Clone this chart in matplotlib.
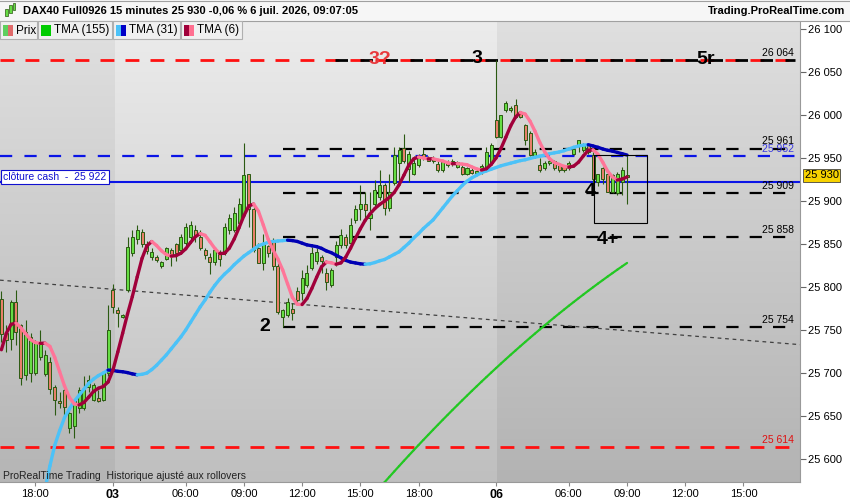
import numpy as np
import matplotlib
matplotlib.use("Agg")
import matplotlib.pyplot as plt
from matplotlib.patches import Rectangle
from matplotlib.lines import Line2D
from matplotlib.collections import LineCollection
from matplotlib.colors import to_rgb

plt.rcParams['font.family'] = ['Liberation Sans', 'DejaVu Sans']

# DAX40 Full0926, bougies 15 minutes (2 juil. 16:15 -> 6 juil. 09:00)
opens = [25786, 25746, 25740, 25783, 25756, 25698, 25700, 25700, 25719, 25699,
         25713, 25684, 25668, 25680, 25636, 25638, 25659, 25659, 25684, 25669,
         25671, 25669, 25700, 25797, 25773, 25765, 25796, 25840, 25856, 25864,
         25850, 25835, 25835, 25824, 25833, 25843, 25850, 25843, 25851, 25858,
         25866, 25858, 25843, 25835, 25829, 25839, 25839, 25866, 25866, 25874,
         25884, 25931, 25891, 25845, 25828, 25848, 25855, 25824, 25765, 25767,
         25775, 25795, 25793, 25802, 25822, 25830, 25835, 25816, 25802, 25835,
         25849, 25858, 25851, 25878, 25891, 25897, 25880, 25897, 25905, 25919,
         25892, 25921, 25944, 25962, 25937, 25932, 25942, 25955, 25950, 25946,
         25943, 25936, 25944, 25943, 25940, 25940, 25932, 25936, 25933, 25934,
         25940, 25944, 25994, 25975, 26006, 26006, 26012, 26002, 25988, 25979,
         25951, 25942, 25938, 25944, 25946, 25942, 25940, 25938, 25955, 25965,
         25959, 25965, 25954, 25922, 25938, 25932, 25911, 25909, 25922, 25928]
highs = [25795, 25756, 25785, 25796, 25757, 25762, 25746, 25738, 25750, 25727,
         25719, 25686, 25678, 25682, 25655, 25669, 25684, 25696, 25698, 25688,
         25680, 25702, 25779, 25804, 25777, 25769, 25858, 25866, 25872, 25868,
         25854, 25845, 25837, 25830, 25847, 25845, 25851, 25862, 25875, 25877,
         25872, 25866, 25845, 25839, 25846, 25843, 25874, 25885, 25893, 25904,
         25968, 25932, 25895, 25851, 25862, 25849, 25857, 25828, 25775, 25787,
         25781, 25800, 25820, 25826, 25847, 25845, 25837, 25822, 25822, 25853,
         25868, 25862, 25880, 25895, 25919, 25911, 25911, 25924, 25936, 25921,
         25932, 25963, 25963, 25978, 25958, 25952, 25955, 25961, 25952, 25952,
         25947, 25947, 25948, 25949, 25947, 25942, 25940, 25938, 25938, 25943,
         25963, 25967, 26064, 26000, 26016, 26010, 26019, 26004, 25990, 25981,
         25960, 25950, 25946, 25948, 25948, 25944, 25942, 25946, 25963, 25971,
         25967, 25967, 25957, 25932, 25940, 25934, 25932, 25934, 25940, 25954]
lows = [25736, 25725, 25727, 25733, 25686, 25692, 25690, 25698, 25715, 25697,
        25676, 25651, 25659, 25649, 25630, 25624, 25653, 25657, 25678, 25667,
        25666, 25667, 25696, 25770, 25754, 25764, 25794, 25836, 25850, 25846,
        25838, 25831, 25829, 25822, 25831, 25824, 25830, 25840, 25848, 25855,
        25852, 25843, 25833, 25815, 25826, 25824, 25837, 25862, 25864, 25870,
        25882, 25870, 25841, 25828, 25820, 25835, 25820, 25769, 25754, 25765,
        25762, 25781, 25785, 25800, 25820, 25827, 25816, 25797, 25800, 25824,
        25845, 25845, 25849, 25874, 25878, 25878, 25866, 25893, 25901, 25884,
        25888, 25919, 25921, 25944, 25922, 25930, 25940, 25948, 25946, 25944,
        25934, 25934, 25940, 25941, 25938, 25930, 25930, 25931, 25930, 25932,
        25938, 25942, 25973, 25973, 26004, 26004, 25996, 25996, 25965, 25952,
        25950, 25934, 25936, 25942, 25936, 25934, 25934, 25936, 25953, 25957,
        25957, 25955, 25907, 25918, 25920, 25911, 25909, 25907, 25907, 25897]
closes = [25745, 25738, 25783, 25748, 25694, 25748, 25742, 25736, 25736, 25721,
          25682, 25669, 25665, 25661, 25653, 25667, 25680, 25682, 25692, 25686,
          25667, 25700, 25750, 25777, 25770, 25768, 25846, 25858, 25866, 25850,
          25842, 25841, 25831, 25829, 25845, 25837, 25839, 25858, 25870, 25872,
          25860, 25845, 25837, 25829, 25843, 25833, 25870, 25880, 25886, 25897,
          25930, 25891, 25843, 25828, 25851, 25840, 25824, 25771, 25773, 25783,
          25770, 25785, 25810, 25816, 25839, 25841, 25830, 25806, 25820, 25849,
          25860, 25849, 25872, 25891, 25897, 25889, 25885, 25913, 25919, 25892,
          25911, 25954, 25959, 25946, 25955, 25944, 25951, 25950, 25947, 25950,
          25936, 25945, 25942, 25947, 25945, 25932, 25938, 25933, 25935, 25941,
          25957, 25965, 25975, 26000, 26014, 26008, 25998, 25998, 25971, 25954,
          25957, 25936, 25944, 25946, 25938, 25936, 25936, 25944, 25961, 25971,
          25965, 25957, 25926, 25932, 25926, 25911, 25930, 25932, 25936, 25930]
# closes just before the first visible bar (warm-up of the TMA 6)
prev_close = [25660, 25680, 25705, 25755, 25790]

# TMA (31), first value on bar 9
tma31_first = 9
tma31 = [25565, 25592, 25616, 25633, 25648, 25658, 25667, 25674, 25681, 25688,
         25693, 25697, 25700, 25703.5, 25703, 25702, 25701.5, 25700.5, 25699, 25698,
         25698.5, 25700, 25704, 25709, 25715, 25721, 25728, 25735, 25742, 25750,
         25759, 25768, 25777, 25785, 25794, 25802, 25809, 25815, 25820, 25826,
         25831, 25836, 25840, 25844, 25848, 25850, 25852, 25853, 25853.5, 25854,
         25854.5, 25854, 25853, 25851, 25849, 25848, 25847, 25845, 25842, 25840,
         25837, 25834, 25831, 25829, 25828, 25827, 25826.5, 25827, 25828.5, 25830.5,
         25832, 25835, 25838, 25841, 25846, 25851, 25857, 25862, 25868, 25873,
         25878, 25885, 25892, 25899, 25906, 25912, 25918, 25923, 25927, 25930,
         25933, 25935, 25937, 25939, 25941, 25942.5, 25944, 25945.5, 25947, 25948,
         25949.5, 25951, 25952, 25953.5, 25955, 25956, 25957, 25958.5, 25960.5, 25962.5,
         25964, 25965, 25965.5, 25964, 25962.5, 25960.5, 25959, 25958, 25956.5, 25955,
         25953.5]

# TMA (155), first value on bar 78
tma155_first = 78
tma155 = [25567, 25573, 25579.3, 25585.6, 25591.8, 25598.0, 25604.1, 25610.2, 25616.2, 25622.2,
          25628.1, 25634.0, 25639.8, 25645.6, 25651.3, 25657.0, 25662.6, 25668.2, 25673.7, 25679.2,
          25684.6, 25690.0, 25695.3, 25700.6, 25705.8, 25711.0, 25716.1, 25721.2, 25726.2, 25731.2,
          25736.1, 25741.0, 25745.8, 25750.6, 25755.3, 25760.0, 25764.6, 25769.2, 25773.7, 25778.2,
          25782.6, 25787.0, 25791.3, 25795.6, 25799.8, 25804.0, 25808.1, 25812.2, 25816.2, 25820.2,
          25824.1, 25828.0]

tick_bars = [7, 23, 38, 50, 62, 74, 86, 102, 117, 129, 141, 153]
tick_labels = ['18:00', '03', '06:00', '09:00', '12:00', '15:00', '18:00',
               '06', '06:00', '09:00', '12:00', '15:00']
day_starts = [23.4, 102.2]

lvl_top = 26064
lvl_black = [25961, 25909, 25858, 25754]
lvl_blue = 25952
cash_close = 25922
lvl_low = 25614
last_price = 25930
trend_bars = [-0.3, 164.7]
trend_prices = [25808, 25733]

# ---------------------------------------------------------------
n = len(closes)
bars = np.arange(n)
o = np.array(opens, float); h = np.array(highs, float)
l = np.array(lows, float); c = np.array(closes, float)

# TMA 6 = SMA(SMA(close, 3), 4)
c_all = np.array(prev_close + closes, float)
sma3 = np.convolve(c_all, np.ones(3) / 3, mode='valid')
tma6 = np.convolve(sma3, np.ones(4) / 4, mode='valid')

X0, X1 = -0.29, 164.66
Y0, Y1 = 25573.3, 26110.5

fig = plt.figure(figsize=(8.5, 5), dpi=100, facecolor='white')
W, H = 850, 500
ax = fig.add_axes([0, 18 / H, 800 / W, 462 / H])


def shade(x0, x1, top, bottom):
    t = np.array(to_rgb(top)); b = np.array(to_rgb(bottom))
    g = np.linspace(0, 1, 200)[:, None, None]
    ax.imshow(t + (b - t) * g, extent=(x0, x1, Y0, Y1), aspect='auto',
              origin='upper', zorder=0, interpolation='bilinear')


shade(X0, day_starts[0], '#e0e0e0', '#b5b5b5')
shade(day_starts[0], day_starts[1], '#ececec', '#bfbfbf')
shade(day_starts[1], X1, '#dfdfdf', '#b3b3b3')


def two_tone(x, y, up, down, lw, z):
    pts = np.column_stack([x, y])
    segs = np.stack([pts[:-1], pts[1:]], axis=1)
    cols = [up if b >= a else down for a, b in zip(y[:-1], y[1:])]
    ax.add_collection(LineCollection(segs, colors=cols, linewidths=lw,
                                     capstyle='round', joinstyle='round', zorder=z))


# levels
dash = (0, (5, 4))
ax.plot([X0, 163.6], [lvl_top] * 2, color='#ff1010', lw=2, ls=dash, zorder=2)
ax.plot([68.8, 163.6], [lvl_top] * 2, color='black', lw=2, ls=(0, (4.5, 4.5)), zorder=2)
for v in lvl_black:
    ax.plot([58.1, 163.6], [v, v], color='black', lw=1.6, ls=(0, (5.5, 5)), zorder=2)
ax.plot([X0, 163.6], [lvl_blue] * 2, color='#0a14e6', lw=1.6, ls=(0, (5.5, 5.5)), zorder=2)
ax.plot([X0, X1], [cash_close] * 2, color='#0a14e6', lw=1.5, zorder=2)
ax.plot([X0, 163.6], [lvl_low] * 2, color='#ff1010', lw=2, ls=dash, zorder=2)
ax.plot(trend_bars, trend_prices, color='#404040', lw=0.9, ls=(0, (3, 3)), zorder=2)

for v, col in [(lvl_top, 'black'), (lvl_black[0], 'black'), (lvl_blue, '#3a3ae0'),
               (lvl_black[1], 'black'), (lvl_black[2], 'black'), (lvl_black[3], 'black'),
               (lvl_low, '#e01010')]:
    ax.annotate(f"{v:,}".replace(",", " "), xy=(163.4, v), xytext=(0, 1.5),
                textcoords='offset points', ha='right', va='bottom', fontsize=7.5,
                color=col, zorder=6)

# candles
wick = '#2b5a12'
ax.vlines(bars, l, h, color=wick, lw=0.8, zorder=3)
up = c >= o
body = np.maximum(np.abs(c - o), 0.8)
ax.bar(bars, body, bottom=np.minimum(o, c), width=0.62,
       color=np.where(up, '#66dd44', '#e8806a'), edgecolor=wick, linewidth=0.7, zorder=4)

# moving averages
two_tone(np.arange(tma155_first, tma155_first + len(tma155)), np.array(tma155),
         '#22c822', '#22c822', 1.6, 5)
two_tone(np.arange(tma31_first, tma31_first + len(tma31)), np.array(tma31),
         '#4cc2f8', '#0000b4', 2.4, 5)
two_tone(bars, tma6, '#a0003a', '#ff7598', 2.4, 5)

# drawings
ax.add_patch(Rectangle((122.2, 25874.4), 10.9, 79.1, fill=False, ec='black', lw=0.8, zorder=6))
for txt, bx, py, col in [('3?', 78.1, 26064, '#e8383d'), ('3', 98.1, 26066, 'black'),
                         ('5r', 145.1, 26064, 'black'), ('2', 54.4, 25754, 'black'),
                         ('4', 121.4, 25911, 'black'), ('4+', 125.1, 25855, 'black')]:
    ax.text(bx, py, txt, color=col, fontsize=14, fontweight='bold', ha='center',
            va='center', zorder=7)

ax.text(0.004, cash_close, "clôture cash  -  25 922", transform=ax.get_yaxis_transform(),
        fontsize=7.5, color='#1010d0', va='bottom', ha='left', zorder=7,
        bbox=dict(boxstyle='square,pad=0.2', fc='white', ec='#1010d0', lw=0.8))
ax.text(0.004, 0.014, "ProRealTime Trading  Historique ajusté aux rollovers",
        transform=ax.transAxes, fontsize=7.5, color='#222222', va='center', zorder=7)

# axes
ax.set_xlim(X0, X1)
ax.set_ylim(Y0, Y1)
ax.yaxis.tick_right()
yt = np.arange(25600, 26101, 50)
ax.set_yticks(yt)
ax.set_yticklabels([f"{v:,}".replace(",", " ") for v in yt])
ax.tick_params(axis='y', length=4, color='#666666', labelsize=8, pad=2)
ax.set_xticks(tick_bars)
ax.set_xticklabels(tick_labels)
ax.tick_params(axis='x', length=3, color='#888888', labelsize=8, pad=2)
for t in ax.get_xticklabels():
    if t.get_text() in ('03', '06'):
        t.set_fontweight('bold')
        t.set_fontsize(9)
for s in ['left', 'top']:
    ax.spines[s].set_visible(False)
for s in ['right', 'bottom']:
    ax.spines[s].set_color('#999999')
    ax.spines[s].set_linewidth(0.8)

ax.text(1.006, last_price, "25 930", transform=ax.get_yaxis_transform(), fontsize=8,
        va='center', ha='left', zorder=8, clip_on=False,
        bbox=dict(boxstyle='square,pad=0.15', fc='#f7d200', ec='#444444', lw=0.6))


# header and legend strip (figure pixels, from the top)
def fx(px):
    return px / W


def fy(py):
    return 1 - py / H


fig.add_artist(Rectangle((0, fy(21)), 1, 21 / H, transform=fig.transFigure,
                         fc='#f6f6f6', ec='none', zorder=4))
fig.add_artist(Line2D([0, 1], [fy(21), fy(21)], transform=fig.transFigure,
                      color='#a0a0a0', lw=0.8, zorder=5))
fig.add_artist(Line2D([0, 1], [fy(0.5), fy(0.5)], transform=fig.transFigure,
                      color='#a0a0a0', lw=0.8, zorder=5))
for ix, iy0, iy1 in [(5, 9, 16), (9, 5, 13), (13, 3, 10)]:
    fig.add_artist(Rectangle((fx(ix), fy(iy1)), 2.5 / W, (iy1 - iy0) / H,
                             transform=fig.transFigure, fc='#66dd44', ec='#2b5a12',
                             lw=0.5, zorder=6))
fig.text(fx(23), fy(11), "DAX40 Full0926 15 minutes 25 930 -0,06 % 6 juil. 2026, 09:07:05",
         fontsize=8, fontweight='bold', va='center', ha='left', zorder=6)
fig.text(fx(845), fy(11), "Trading.ProRealTime.com", fontsize=8, fontweight='bold',
         va='center', ha='right', zorder=6)

legend = [(0, 37, 'Prix', '#5ecf5e', '#e06a6a'),
          (38, 112, 'TMA (155)', '#00cc00', '#00cc00'),
          (113, 180, 'TMA (31)', '#4cc2f8', '#0000c8'),
          (181, 242, 'TMA (6)', '#a0003a', '#ff6f90')]
for x0, x1, lab, c1, c2 in legend:
    fig.add_artist(Rectangle((fx(x0), fy(39)), (x1 - x0) / W, 17.5 / H,
                             transform=fig.transFigure, fc='#f0f0f0', ec='#b0b0b0',
                             lw=0.8, zorder=6))
    fig.add_artist(Rectangle((fx(x0 + 3), fy(36)), 5 / W, 11 / H, transform=fig.transFigure,
                             fc=c1, ec='none', zorder=7))
    fig.add_artist(Rectangle((fx(x0 + 8), fy(36)), 5 / W, 11 / H, transform=fig.transFigure,
                             fc=c2, ec='none', zorder=7))
    fig.text(fx(x0 + 16), fy(30.5), lab, fontsize=8.5, va='center', ha='left', zorder=8)

fig.savefig('out.png', dpi=100, facecolor='white')
